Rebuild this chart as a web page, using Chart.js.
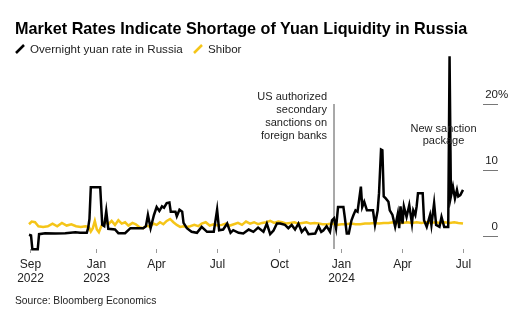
<!DOCTYPE html>
<html lang="en">
<head>
<meta charset="UTF-8">
<title>Market Rates Indicate Shortage of Yuan Liquidity in Russia</title>
<script src="https://cdn.jsdelivr.net/npm/chart.js"></script>
<style>
    body { margin: 0; background: #fff; font-family: "Liberation Sans", Arial, sans-serif; color: #000; }
    .wrap { position: relative; width: 518px; height: 322px; overflow: hidden; }
    canvas { position: absolute; left: 0; top: 0; }
    h1 { position: absolute; left: 15px; top: 19px; margin: 0; font-size: 16.2px; font-weight: bold; white-space: nowrap; }
    .legend { position: absolute; left: 15px; top: 42px; font-size: 11.6px; color: #222; white-space: nowrap; }
    .legend span { margin-right: 7px; }
    .legend svg { vertical-align: -1px; margin-right: 5px; }
    .source { position: absolute; left: 15px; top: 295px; font-size: 10.3px; color: #222; }
</style>
</head>
<body>
<div class="wrap">
    <canvas id="chart" width="518" height="322"></canvas>
    <h1>Market Rates Indicate Shortage of Yuan Liquidity in Russia</h1>
    <div class="legend">
        <span><svg width="10" height="10"><line x1="1" y1="9" x2="9" y2="1" stroke="#000" stroke-width="2.5"/></svg>Overnight yuan rate in Russia</span>
        <span><svg width="10" height="10"><line x1="1" y1="9" x2="9" y2="1" stroke="#F5C518" stroke-width="2.5"/></svg>Shibor</span>
    </div>
    <div class="source">Source: Bloomberg Economics</div>
</div>
<script>
// days counted from 2023-01-01
const rubDays = [-99, -96, -94, -86, -84, -75, -60, -45, -30, -23, -13, -11, -9, -7, 7, 10, 13, 16, 19, 29, 34, 44, 52, 62, 71, 75, 78, 82, 87, 91, 95, 99, 102, 106, 110, 112, 119, 121, 125, 129, 131, 136, 143, 151, 158, 166, 176, 181, 184, 190, 196, 201, 205, 213, 220, 228, 235, 242, 250, 255, 260, 265, 270, 275, 282, 287, 292, 297, 302, 307, 312, 317, 327, 332, 336, 339, 344, 349, 352, 355, 358, 361, 369, 371, 374, 377, 381, 384, 387, 390, 392, 395, 397, 400, 404, 413, 416, 420, 422, 425, 427, 429, 432, 436, 438, 442, 446, 450, 452, 454, 457, 459, 463, 467, 471, 473, 476, 478, 480, 487, 489, 493, 498, 500, 504, 507, 512, 515, 519, 525, 527, 529, 532, 535, 538, 540, 543, 547];
const rubRate = [0.2, 0.1, -2.0, -2.0, 0.3, 0.45, 0.4, 0.45, 0.6, 0.5, 0.5, 1.2, 2.6, 7.4, 7.4, 1.7, 1.5, 3.8, 1.1, 1.0, 0.45, 0.45, 1.2, 1.2, 1.2, 1.5, 3.2, 1.2, 3.2, 4.4, 3.8, 4.5, 4.3, 5.0, 5.1, 3.7, 3.7, 3.0, 4.0, 3.7, 2.0, 1.2, 0.65, 0.5, 1.4, 0.65, 0.65, 4.0, 0.9, 1.0, 1.9, 0.5, 0.9, 0.5, 0.4, 1.0, 0.65, 1.3, 0.65, 1.9, 0.3, 0.85, 1.9, 1.9, 1.7, 1.2, 1.7, 1.0, 1.9, 0.65, 1.2, 0.3, 0.4, 1.5, 0.65, 0.85, 1.5, 0.65, 2.4, 2.7, 1.2, 4.4, 4.4, 2.9, 0.4, 0.4, 2.4, 3.2, 3.9, 3.7, 5.2, 7.5, 4.4, 5.2, 3.9, 3.9, 1.7, 3.9, 6.5, 13.1, 13.0, 6.0, 5.7, 5.2, 3.9, 3.2, 1.4, 3.4, 1.2, 4.5, 1.9, 4.5, 2.9, 4.7, 1.9, 3.9, 3.2, 4.5, 6.5, 6.5, 2.4, 1.4, 3.2, 1.7, 5.0, 1.7, 1.4, 2.9, 1.4, 1.4, 27.2, 6.0, 7.5, 5.7, 7.0, 6.0, 6.2, 7.0];

const shiborDays = [-99, -95, -90, -85, -78, -71, -64, -57, -50, -43, -36, -29, -22, -15, -10, -7, -4, -1, 2, 5, 9, 14, 19, 24, 29, 34, 39, 44, 49, 55, 60, 66, 71, 76, 81, 86, 91, 96, 101, 106, 111, 116, 121, 126, 131, 136, 141, 147, 153, 158, 164, 170, 176, 182, 188, 194, 200, 206, 212, 218, 224, 230, 236, 242, 248, 254, 260, 266, 272, 278, 284, 290, 296, 302, 308, 314, 320, 326, 332, 338, 345, 352, 359, 366, 373, 380, 387, 394, 401, 408, 415, 422, 429, 436, 443, 450, 457, 464, 471, 478, 485, 492, 499, 506, 513, 520, 527, 534, 540, 547];
const shiborRate = [1.8, 2.2, 2.1, 1.5, 1.4, 1.5, 1.9, 1.5, 2.0, 1.6, 1.8, 1.5, 1.4, 1.5, 1.4, 0.7, 1.2, 2.3, 1.0, 0.6, 1.6, 2.2, 1.8, 2.3, 1.7, 2.4, 1.9, 2.1, 1.6, 2.0, 1.8, 1.3, 1.2, 1.6, 1.4, 1.9, 1.7, 2.1, 1.8, 2.3, 2.6, 2.1, 1.7, 1.4, 1.5, 1.4, 1.5, 1.7, 1.5, 1.9, 2.1, 1.6, 1.8, 1.6, 1.7, 1.9, 1.6, 1.8, 2.0, 1.7, 2.2, 1.9, 2.1, 1.8, 2.0, 2.1, 2.3, 2.0, 2.2, 2.1, 1.9, 2.0, 2.1, 1.9, 2.0, 2.1, 1.9, 2.0, 1.9, 1.8, 1.8, 1.9, 1.7, 1.8, 1.8, 1.9, 1.8, 1.8, 1.9, 1.9, 2.0, 1.9, 2.0, 2.0, 2.1, 2.0, 2.0, 2.1, 2.0, 2.1, 2.0, 2.1, 2.0, 2.1, 2.0, 2.1, 2.0, 2.1, 2.0, 1.9];

// x ticks (day, two label lines)
const xTickDays = [-98, 0, 90, 181, 273, 365, 456, 547];
const xTickLabels = [['Sep', '2022'], ['Jan', '2023'], ['Apr', ''], ['Jul', ''], ['Oct', ''], ['Jan', '2024'], ['Apr', ''], ['Jul', '']];
const yTicks = [0, 10, 20];
const yTickLabels = ['0', '10', '20'];

// annotations
const usSanctionDay = 355;
const usSanctionText = ['US authorized', 'secondary', 'sanctions on', 'foreign banks'];
const newPackageDay = 518;
const newPackageText = ['New sanction', 'package'];

const FONT = '"Liberation Sans", Arial, sans-serif';

const overlay = {
    id: 'overlay',
    beforeDatasetsDraw(chart) {
        const { ctx, scales: { x, y }, chartArea } = chart;
        const ax = x.getPixelForValue(usSanctionDay);
        ctx.save();
        ctx.strokeStyle = '#8c8c8c';
        ctx.lineWidth = 1.5;
        ctx.beginPath();
        ctx.moveTo(ax, y.getPixelForValue(20));
        ctx.lineTo(ax, chartArea.bottom - 3);
        ctx.stroke();
        ctx.restore();
    },
    afterDraw(chart) {
        const { ctx, scales: { x, y }, chartArea } = chart;
        ctx.save();
        // x ticks
        ctx.strokeStyle = '#999';
        ctx.lineWidth = 1;
        ctx.fillStyle = '#222';
        ctx.font = '12px ' + FONT;
        ctx.textAlign = 'center';
        ctx.textBaseline = 'middle';
        xTickDays.forEach((d, i) => {
            const px = Math.round(x.getPixelForValue(d)) + 0.5;
            ctx.beginPath();
            ctx.moveTo(px, chartArea.bottom - 3);
            ctx.lineTo(px, chartArea.bottom + 1);
            ctx.stroke();
            ctx.fillText(xTickLabels[i][0], px, chartArea.bottom + 13);
            if (xTickLabels[i][1]) ctx.fillText(xTickLabels[i][1], px, chartArea.bottom + 27);
        });
        // y ticks on the right
        ctx.strokeStyle = '#777';
        ctx.font = '11.5px ' + FONT;
        yTicks.forEach((v, i) => {
            const py = Math.round(y.getPixelForValue(v)) + 0.5;
            ctx.beginPath();
            ctx.moveTo(483, py);
            ctx.lineTo(498, py);
            ctx.stroke();
            ctx.textAlign = 'right';
            ctx.fillText(yTickLabels[i], 498, py - 10);
            if (i === yTicks.length - 1) {
                ctx.textAlign = 'left';
                ctx.fillText('%', 498, py - 10);
            }
        });
        // annotation text
        ctx.fillStyle = '#222';
        ctx.font = '11px ' + FONT;
        ctx.textAlign = 'right';
        const ax = x.getPixelForValue(usSanctionDay);
        usSanctionText.forEach((t, i) => ctx.fillText(t, ax - 7, y.getPixelForValue(21) + i * 12.9));
        ctx.textAlign = 'center';
        const nx = x.getPixelForValue(newPackageDay);
        newPackageText.forEach((t, i) => ctx.fillText(t, nx, y.getPixelForValue(16.2) + i * 11.5));
        ctx.restore();
    }
};

new Chart(document.getElementById('chart'), {
    type: 'line',
    data: {
        datasets: [{
            label: 'Overnight yuan rate in Russia',
            data: rubDays.map((d, i) => ({ x: d, y: rubRate[i] })),
            borderColor: '#000',
            borderWidth: 2.5,
            pointRadius: 0,
            tension: 0,
            clip: false
        }, {
            label: 'Shibor',
            data: shiborDays.map((d, i) => ({ x: d, y: shiborRate[i] })),
            borderColor: '#F5C518',
            borderWidth: 2.5,
            pointRadius: 0,
            tension: 0,
            clip: false
        }]
    },
    options: {
        responsive: false,
        animation: false,
        layout: { padding: { left: 29, right: 55, top: 55, bottom: 70 } },
        plugins: { legend: { display: false }, tooltip: { enabled: false } },
        scales: {
            x: { type: 'linear', min: -99, max: 547, display: false },
            y: { min: -2.4, max: 27.4, display: false }
        }
    },
    plugins: [overlay]
});
</script>
</body>
</html>
